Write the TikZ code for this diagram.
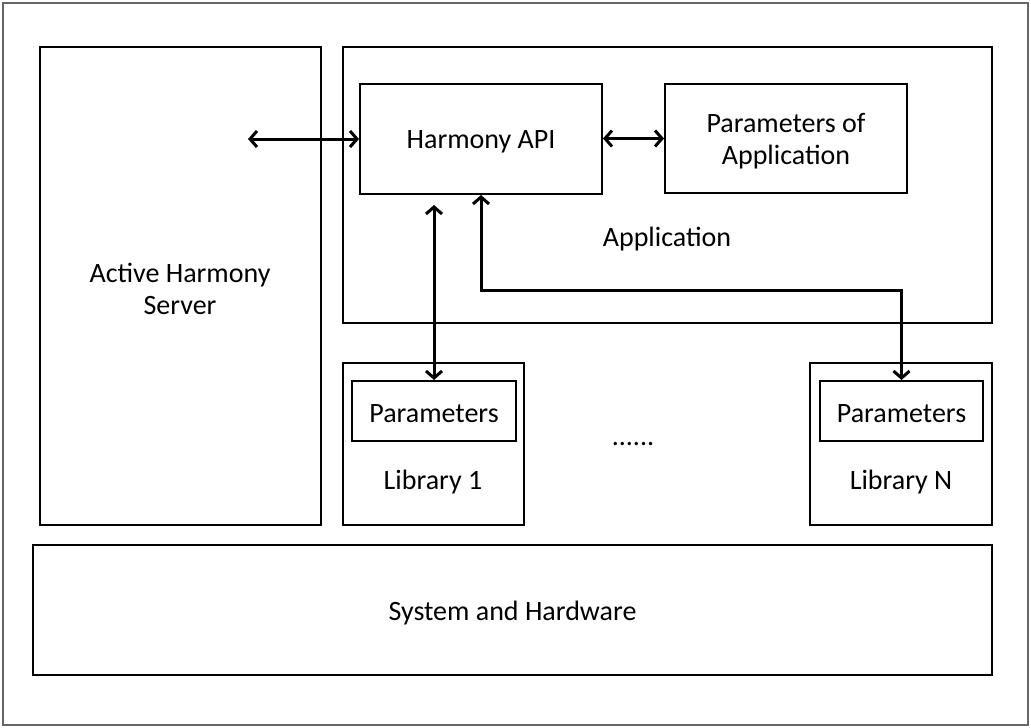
\documentclass[tikz,border=0pt]{standalone}
\usepackage{fontspec}
\setmainfont{Carlito}
\usetikzlibrary{arrows.meta}

\tikzset{
  box/.style={draw, line width=2pt, rectangle, inner sep=0pt},
  lbl/.style={font=\fontsize{28}{32}\selectfont, align=center, yshift=-3pt},
  link/.style={line width=3pt, {Straight Barb[length=7pt,width=16pt]}-{Straight Barb[length=7pt,width=16pt]}},
}

\begin{document}
\begin{tikzpicture}[x=1pt, y=-1pt]
            % frame
            \draw[gray!80!black, line width=1.2pt] (3, 3) rectangle (1028, 725);
            \useasboundingbox (0, 0) rectangle (1031, 728);

            % server
            \node[box, minimum width=281, minimum height=478] (server) at (180.5, 286) {};
            \node[lbl] (serverlbl) at (180, 286) {Active Harmony\\Server};
            \coordinate (srvend) at (248, 139);

            % application
            \node[box, minimum width=649, minimum height=276] (app) at (667.5, 185) {};
            \node[lbl] (applbl) at (667, 236) {Application};
            \node[box, minimum width=242, minimum height=110] (api) at (481, 139) {};
            \node[lbl] (apilbl) at (api.center) {Harmony API};
            \node[box, minimum width=242, minimum height=109] (apppar) at (786, 138.5) {};
            \node[lbl] (appparlbl) at (apppar.center) {Parameters of\\Application};

            % libraries
            \node[box, minimum width=181, minimum height=162] (lib1) at (433.5, 444) {};
            \node[box, minimum width=164, minimum height=60] (par1) at (434, 411) {};
            \node[lbl] (par1lbl) at (par1.center) {Parameters};
            \node[lbl] (lib1lbl) at (433, 479) {Library 1};
            \node[box, minimum width=182, minimum height=162] (libn) at (901, 444) {};
            \node[box, minimum width=163, minimum height=60] (parn) at (901.5, 411) {};
            \node[lbl] (parnlbl) at (parn.center) {Parameters};
            \node[lbl] (libnlbl) at (901, 479) {Library N};
            \node[lbl] (dots) at (633, 441) {......};

            % system
            \node[box, minimum width=959, minimum height=130] (sys) at (512.5, 610) {};
            \node[lbl] (syslbl) at (sys.center) {System and Hardware};

            % links
            \draw[link] (srvend) -- (api.west |- srvend);
            \draw[link] (api.east |- apppar.west) -- (apppar.west);
            \draw[link, shorten <=10pt] (par1.north |- api.south) -- (par1.north);
            \draw[link] (api.south) -- ++(0, 95) -| (parn.north);

        \end{tikzpicture}
\end{document}
